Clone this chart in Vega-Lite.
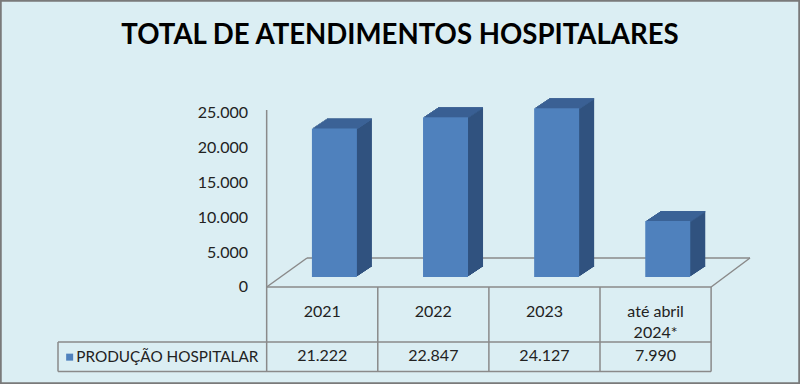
{
  "$schema": "https://vega.github.io/schema/vega-lite/v6.json",
  "width": 800,
  "height": 384,
  "autosize": "none",
  "padding": 0,
  "background": "#dbeef3",
  "config": {
    "font": "Lato",
    "view": {"stroke": "#7a7a7a", "strokeWidth": 3.5, "fill": "#dbeef3"},
    "locale": {"number": {"decimal": ",", "thousands": ".", "grouping": [3], "currency": ["R$", ""]}}
  },
  "data": {"values": [
    {"ano": "2021", "valor": 21222, "serie": "PRODUÇÃO HOSPITALAR"},
    {"ano": "2022", "valor": 22847, "serie": "PRODUÇÃO HOSPITALAR"},
    {"ano": "2023", "valor": 24127, "serie": "PRODUÇÃO HOSPITALAR"},
    {"ano": "até abril\n2024*", "valor": 7990, "serie": "PRODUÇÃO HOSPITALAR"}
  ]},
  "resolve": {"scale": {"x": "independent"}},
  "layer": [
    {
      "data": {"values": [{}]},
      "layer": [
        {"mark": {"type": "rule", "color": "#8a8a8a", "strokeWidth": 1.5},
         "encoding": {"x": {"datum": 0, "type": "quantitative", "scale": {"domain": [-2.4, 4.8], "nice": false, "zero": false}, "axis": null},
                      "y": {"datum": 23874, "type": "quantitative", "scale": {"domain": [-15300, 39600], "nice": false, "zero": false}, "axis": null},
                      "y2": {"datum": -1432}}},
        {"mark": {"type": "rule", "color": "#8a8a8a", "strokeWidth": 1.5},
         "encoding": {"x": {"datum": 0.363, "type": "quantitative", "scale": {"domain": [-2.4, 4.8], "nice": false, "zero": false}, "axis": null},
                      "x2": {"datum": 4.35},
                      "y": {"datum": 2714, "type": "quantitative", "scale": {"domain": [-15300, 39600], "nice": false, "zero": false}, "axis": null}}},
        {"mark": {"type": "rule", "color": "#8a8a8a", "strokeWidth": 1.5},
         "encoding": {"x": {"datum": 0, "type": "quantitative", "scale": {"domain": [-2.4, 4.8], "nice": false, "zero": false}, "axis": null},
                      "x2": {"datum": 0.363},
                      "y": {"datum": -1432, "type": "quantitative", "scale": {"domain": [-15300, 39600], "nice": false, "zero": false}, "axis": null},
                      "y2": {"datum": 2714}}},
        {"mark": {"type": "rule", "color": "#8a8a8a", "strokeWidth": 1.5},
         "encoding": {"x": {"datum": 4, "type": "quantitative", "scale": {"domain": [-2.4, 4.8], "nice": false, "zero": false}, "axis": null},
                      "x2": {"datum": 4.35},
                      "y": {"datum": -1432, "type": "quantitative", "scale": {"domain": [-15300, 39600], "nice": false, "zero": false}, "axis": null},
                      "y2": {"datum": 2714}}},
        {"mark": {"type": "rule", "color": "#8a8a8a", "strokeWidth": 1.5},
         "encoding": {"x": {"datum": 0, "type": "quantitative", "scale": {"domain": [-2.4, 4.8], "nice": false, "zero": false}, "axis": null},
                      "x2": {"datum": 4},
                      "y": {"datum": -1432, "type": "quantitative", "scale": {"domain": [-15300, 39600], "nice": false, "zero": false}, "axis": null}}},
        {"mark": {"type": "rule", "color": "#8a8a8a", "strokeWidth": 1.5},
         "encoding": {"x": {"datum": -1.878, "type": "quantitative", "scale": {"domain": [-2.4, 4.8], "nice": false, "zero": false}, "axis": null},
                      "x2": {"datum": 4},
                      "y": {"datum": -9295, "type": "quantitative", "scale": {"domain": [-15300, 39600], "nice": false, "zero": false}, "axis": null}}},
        {"mark": {"type": "rule", "color": "#8a8a8a", "strokeWidth": 1.5},
         "encoding": {"x": {"datum": -1.878, "type": "quantitative", "scale": {"domain": [-2.4, 4.8], "nice": false, "zero": false}, "axis": null},
                      "x2": {"datum": 4},
                      "y": {"datum": -13513, "type": "quantitative", "scale": {"domain": [-15300, 39600], "nice": false, "zero": false}, "axis": null}}},
        {"mark": {"type": "rule", "color": "#8a8a8a", "strokeWidth": 1.5},
         "encoding": {"x": {"datum": -1.878, "type": "quantitative", "scale": {"domain": [-2.4, 4.8], "nice": false, "zero": false}, "axis": null},
                      "y": {"datum": -9295, "type": "quantitative", "scale": {"domain": [-15300, 39600], "nice": false, "zero": false}, "axis": null},
                      "y2": {"datum": -13513}}},
        {"mark": {"type": "rule", "color": "#8a8a8a", "strokeWidth": 1.5},
         "encoding": {"x": {"datum": 0, "type": "quantitative", "scale": {"domain": [-2.4, 4.8], "nice": false, "zero": false}, "axis": null},
                      "y": {"datum": -1432, "type": "quantitative", "scale": {"domain": [-15300, 39600], "nice": false, "zero": false}, "axis": null},
                      "y2": {"datum": -13513}}},
        {"mark": {"type": "rule", "color": "#8a8a8a", "strokeWidth": 1.5},
         "encoding": {"x": {"datum": 1, "type": "quantitative", "scale": {"domain": [-2.4, 4.8], "nice": false, "zero": false}, "axis": null},
                      "y": {"datum": -1432, "type": "quantitative", "scale": {"domain": [-15300, 39600], "nice": false, "zero": false}, "axis": null},
                      "y2": {"datum": -13513}}},
        {"mark": {"type": "rule", "color": "#8a8a8a", "strokeWidth": 1.5},
         "encoding": {"x": {"datum": 2, "type": "quantitative", "scale": {"domain": [-2.4, 4.8], "nice": false, "zero": false}, "axis": null},
                      "y": {"datum": -1432, "type": "quantitative", "scale": {"domain": [-15300, 39600], "nice": false, "zero": false}, "axis": null},
                      "y2": {"datum": -13513}}},
        {"mark": {"type": "rule", "color": "#8a8a8a", "strokeWidth": 1.5},
         "encoding": {"x": {"datum": 3, "type": "quantitative", "scale": {"domain": [-2.4, 4.8], "nice": false, "zero": false}, "axis": null},
                      "y": {"datum": -1432, "type": "quantitative", "scale": {"domain": [-15300, 39600], "nice": false, "zero": false}, "axis": null},
                      "y2": {"datum": -13513}}},
        {"mark": {"type": "rule", "color": "#8a8a8a", "strokeWidth": 1.5},
         "encoding": {"x": {"datum": 4, "type": "quantitative", "scale": {"domain": [-2.4, 4.8], "nice": false, "zero": false}, "axis": null},
                      "y": {"datum": -1432, "type": "quantitative", "scale": {"domain": [-15300, 39600], "nice": false, "zero": false}, "axis": null},
                      "y2": {"datum": -13513}}},
        {"mark": {"type": "text", "text": "TOTAL DE ATENDIMENTOS HOSPITALARES", "font": "Lato", "fontSize": 27.6, "fontWeight": "bold", "color": "#000000", "align": "center", "baseline": "alphabetic"},
         "encoding": {"x": {"datum": 1.2, "type": "quantitative", "scale": {"domain": [-2.4, 4.8], "nice": false, "zero": false}, "axis": null},
                      "y": {"datum": 33270, "type": "quantitative", "scale": {"domain": [-15300, 39600], "nice": false, "zero": false}, "axis": null}}},
        {"data": {"values": [{"t": 0}, {"t": 5000}, {"t": 10000}, {"t": 15000}, {"t": 20000}, {"t": 25000}]},
         "mark": {"type": "text", "font": "Lato", "fontSize": 16, "color": "#222222", "align": "right", "baseline": "alphabetic", "dy": 15.5},
         "encoding": {"x": {"datum": -0.168, "type": "quantitative", "scale": {"domain": [-2.4, 4.8], "nice": false, "zero": false}, "axis": null},
                      "y": {"field": "t", "type": "quantitative", "scale": {"domain": [-15300, 39600], "nice": false, "zero": false}, "axis": null},
                      "text": {"field": "t", "type": "quantitative", "format": ",d"}}}
      ]
    },
    {
      "encoding": {
        "x": {"field": "ano", "type": "nominal", "sort": null, "axis": null,
              "scale": {"type": "band", "domain": ["2021", "2022", "2023", "até abril\n2024*"], "range": [266.67, 711.11], "paddingInner": 0, "paddingOuter": 0}},
        "y": {"field": "valor", "type": "quantitative", "axis": null,
              "scale": {"domain": [-15300, 39600], "nice": false, "zero": false}}
      },
      "layer": [
        {"mark": {"type": "bar", "width": 45, "color": "#30527f", "xOffset": 13.7, "x2Offset": 13.7, "yOffset": -1, "y2Offset": -1}},
        {"mark": {"type": "bar", "width": 45, "color": "#30527f", "xOffset": 15.2, "x2Offset": 15.2, "yOffset": -2, "y2Offset": -2}},
        {"mark": {"type": "bar", "width": 45, "color": "#30527f", "xOffset": 16.7, "x2Offset": 16.7, "yOffset": -3, "y2Offset": -3}},
        {"mark": {"type": "bar", "width": 45, "color": "#30527f", "xOffset": 18.2, "x2Offset": 18.2, "yOffset": -4, "y2Offset": -4}},
        {"mark": {"type": "bar", "width": 45, "color": "#30527f", "xOffset": 19.7, "x2Offset": 19.7, "yOffset": -5, "y2Offset": -5}},
        {"mark": {"type": "bar", "width": 45, "color": "#30527f", "xOffset": 21.2, "x2Offset": 21.2, "yOffset": -6, "y2Offset": -6}},
        {"mark": {"type": "bar", "width": 45, "color": "#30527f", "xOffset": 22.7, "x2Offset": 22.7, "yOffset": -7, "y2Offset": -7}},
        {"mark": {"type": "bar", "width": 45, "color": "#30527f", "xOffset": 24.2, "x2Offset": 24.2, "yOffset": -8, "y2Offset": -8}},
        {"mark": {"type": "bar", "width": 45, "color": "#30527f", "xOffset": 25.7, "x2Offset": 25.7, "yOffset": -9, "y2Offset": -9}},
        {"mark": {"type": "bar", "width": 45, "color": "#30527f", "xOffset": 27.2, "x2Offset": 27.2, "yOffset": -10, "y2Offset": -10}},
        {"mark": {"type": "bar", "width": 45, "color": "#3b6296", "xOffset": 13.7, "x2Offset": 13.7, "yOffset": -1, "y2Offset": 0.4}, "encoding": {"y2": {"field": "valor"}}},
        {"mark": {"type": "bar", "width": 45, "color": "#3b6296", "xOffset": 15.2, "x2Offset": 15.2, "yOffset": -2, "y2Offset": -0.6}, "encoding": {"y2": {"field": "valor"}}},
        {"mark": {"type": "bar", "width": 45, "color": "#3b6296", "xOffset": 16.7, "x2Offset": 16.7, "yOffset": -3, "y2Offset": -1.6}, "encoding": {"y2": {"field": "valor"}}},
        {"mark": {"type": "bar", "width": 45, "color": "#3b6296", "xOffset": 18.2, "x2Offset": 18.2, "yOffset": -4, "y2Offset": -2.6}, "encoding": {"y2": {"field": "valor"}}},
        {"mark": {"type": "bar", "width": 45, "color": "#3b6296", "xOffset": 19.7, "x2Offset": 19.7, "yOffset": -5, "y2Offset": -3.6}, "encoding": {"y2": {"field": "valor"}}},
        {"mark": {"type": "bar", "width": 45, "color": "#3b6296", "xOffset": 21.2, "x2Offset": 21.2, "yOffset": -6, "y2Offset": -4.6}, "encoding": {"y2": {"field": "valor"}}},
        {"mark": {"type": "bar", "width": 45, "color": "#3b6296", "xOffset": 22.7, "x2Offset": 22.7, "yOffset": -7, "y2Offset": -5.6}, "encoding": {"y2": {"field": "valor"}}},
        {"mark": {"type": "bar", "width": 45, "color": "#3b6296", "xOffset": 24.2, "x2Offset": 24.2, "yOffset": -8, "y2Offset": -6.6}, "encoding": {"y2": {"field": "valor"}}},
        {"mark": {"type": "bar", "width": 45, "color": "#3b6296", "xOffset": 25.7, "x2Offset": 25.7, "yOffset": -9, "y2Offset": -7.6}, "encoding": {"y2": {"field": "valor"}}},
        {"mark": {"type": "bar", "width": 45, "color": "#3b6296", "xOffset": 27.2, "x2Offset": 27.2, "yOffset": -10, "y2Offset": -8.6}, "encoding": {"y2": {"field": "valor"}}},
        {"mark": {"type": "bar", "width": 45, "xOffset": 12.2, "x2Offset": 12.2},
         "encoding": {"color": {"field": "serie", "type": "nominal", "scale": {"range": ["#4f81bd"]},
                                "legend": {"title": null, "orient": "none", "legendX": 62, "legendY": 349.5, "symbolType": "square", "symbolSize": 49, "symbolStrokeWidth": 0, "labelFont": "Lato", "labelFontSize": 15.3, "labelColor": "#222222", "labelOffset": -1, "labelLimit": 400, "padding": 0}}}},
        {"mark": {"type": "text", "font": "Lato", "fontSize": 16, "color": "#222222", "baseline": "alphabetic", "lineBreak": "\n", "lineHeight": 21.7},
         "encoding": {"y": {"datum": -5678, "type": "quantitative", "scale": {"domain": [-15300, 39600], "nice": false, "zero": false}, "axis": null},
                      "text": {"field": "ano"}}},
        {"mark": {"type": "text", "font": "Lato", "fontSize": 16, "color": "#222222", "baseline": "alphabetic"},
         "encoding": {"y": {"datum": -11969, "type": "quantitative", "scale": {"domain": [-15300, 39600], "nice": false, "zero": false}, "axis": null},
                      "text": {"field": "valor", "type": "quantitative", "format": ",d"}}}
      ]
    }
  ]
}
